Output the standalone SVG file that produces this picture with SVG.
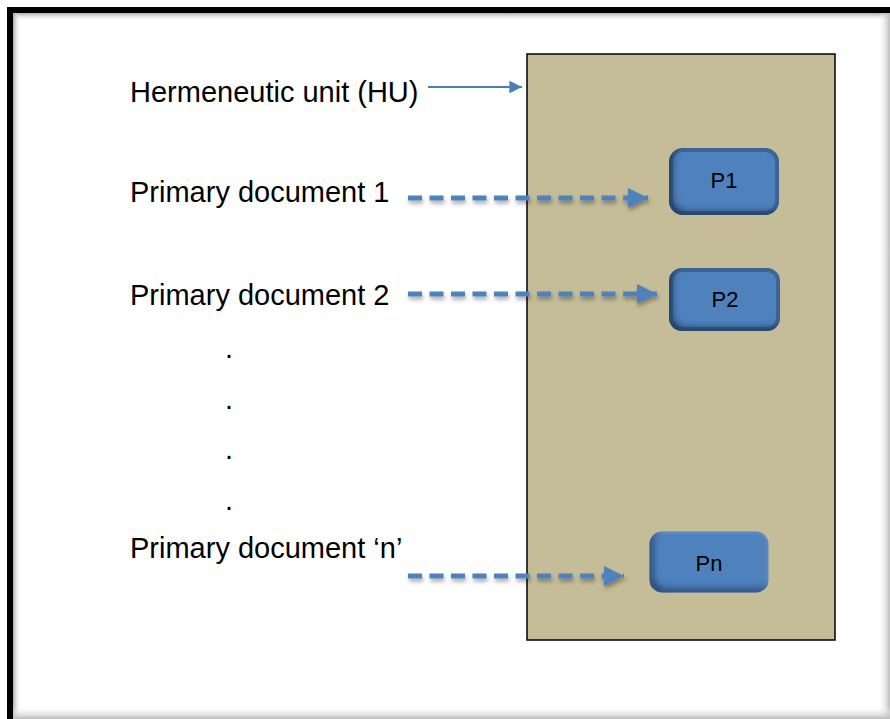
<svg xmlns="http://www.w3.org/2000/svg" width="890" height="719" viewBox="0 0 890 719">
<style>
.lbl{font-family:"Liberation Sans",Arial,sans-serif;font-size:29px;fill:#000}
.box{font-family:"Liberation Sans",Arial,sans-serif;font-size:22px;fill:#000;text-anchor:middle}
.dash{stroke:#4F81BD;stroke-width:5;stroke-dasharray:14 7.5;fill:none;filter:url(#sh)}
</style>
<defs>
<marker id="ah" viewBox="0 0 10 10" refX="10" refY="5" markerWidth="4" markerHeight="4" markerUnits="strokeWidth" orient="auto"><path d="M0,0 L10,5 L0,10 z" fill="#4F81BD"/></marker>
<marker id="ah2" viewBox="0 0 10 10" refX="10" refY="5" markerWidth="7" markerHeight="7" markerUnits="strokeWidth" orient="auto"><path d="M0,0 L10,5 L0,10 z" fill="#4A7EBB"/></marker>
<filter id="sh" filterUnits="userSpaceOnUse" x="380" y="0" width="320" height="719"><feDropShadow dx="1" dy="3" stdDeviation="2" flood-color="#000" flood-opacity="0.35"/></filter>
<filter id="inset" x="-10%" y="-10%" width="120%" height="120%">
<feOffset in="SourceAlpha" dx="5" dy="-5" result="o"/>
<feGaussianBlur in="o" stdDeviation="3" result="b"/>
<feComposite in="SourceAlpha" in2="b" operator="out" result="inv"/>
<feFlood flood-color="#1F3A5F" flood-opacity="0.8"/>
<feComposite in2="inv" operator="in" result="shadow"/>
<feMerge><feMergeNode in="SourceGraphic"/><feMergeNode in="shadow"/></feMerge>
</filter>
<linearGradient id="rg" x1="0" x2="1"><stop offset="0" stop-color="#fff" stop-opacity="0"/><stop offset="1" stop-color="#bbb"/></linearGradient>
<linearGradient id="bg" x1="0" y1="0" x2="0" y2="1"><stop offset="0" stop-color="#fff" stop-opacity="0"/><stop offset="1" stop-color="#bbb"/></linearGradient>
<linearGradient id="tg" x1="0" y1="0" x2="0" y2="1"><stop offset="0" stop-color="#aaa"/><stop offset="1" stop-color="#fff" stop-opacity="0"/></linearGradient>
<linearGradient id="lg" x1="0" x2="1"><stop offset="0" stop-color="#aaa"/><stop offset="1" stop-color="#fff" stop-opacity="0"/></linearGradient>
</defs>
<rect width="890" height="719" fill="#fff"/>
<g id="frame">
<rect x="13" y="13" width="877" height="8" fill="url(#tg)"/>
<rect x="13" y="13" width="8" height="706" fill="url(#lg)"/>
<rect x="878" y="13" width="12" height="706" fill="url(#rg)"/>
<rect x="13" y="706" width="877" height="13" fill="url(#bg)"/>
<rect x="7" y="7" width="883" height="6" fill="#000"/>
<rect x="7" y="7" width="6" height="712" fill="#000"/>
</g>
<g id="hu">
<rect x="527" y="54" width="308" height="586" fill="#C4BD97" stroke="#000" stroke-width="1.5"/>
</g>
<g id="p1">
<rect x="671" y="150" width="106" height="63" rx="12" fill="#4F81BD" stroke="#3D6696" stroke-width="4" filter="url(#inset)"/>
<text class="box" x="724" y="188">P1</text>
</g>
<g id="p2">
<rect x="671" y="270" width="107" height="59" rx="11" fill="#4F81BD" stroke="#3D6696" stroke-width="4" filter="url(#inset)"/>
<text class="box" x="725" y="307">P2</text>
</g>
<g id="pn">
<rect x="651" y="533" width="116" height="58" rx="11" fill="#4F81BD" stroke="#5A8AC6" stroke-width="3" filter="url(#inset)"/>
<text class="box" x="709" y="571">Pn</text>
</g>
<g id="labels">
<text class="lbl" x="130" y="102">Hermeneutic unit (HU)</text>
<text class="lbl" x="130" y="202">Primary document 1</text>
<text class="lbl" x="130" y="305">Primary document 2</text>
<text class="lbl" x="225" y="358">.</text>
<text class="lbl" x="225" y="409">.</text>
<text class="lbl" x="225" y="459">.</text>
<text class="lbl" x="225" y="510">.</text>
<text class="lbl" x="130" y="558">Primary document ‘n’</text>
</g>
<g id="connectors">
<line x1="428" y1="87" x2="522" y2="87" stroke="#4A7EBB" stroke-width="1.8" marker-end="url(#ah2)"/>
<line class="dash" x1="408" y1="198" x2="648" y2="198" marker-end="url(#ah)"/>
<line class="dash" x1="408" y1="294" x2="657" y2="294" marker-end="url(#ah)"/>
<line class="dash" x1="408" y1="576" x2="624" y2="576" marker-end="url(#ah)"/>
</g>
</svg>
